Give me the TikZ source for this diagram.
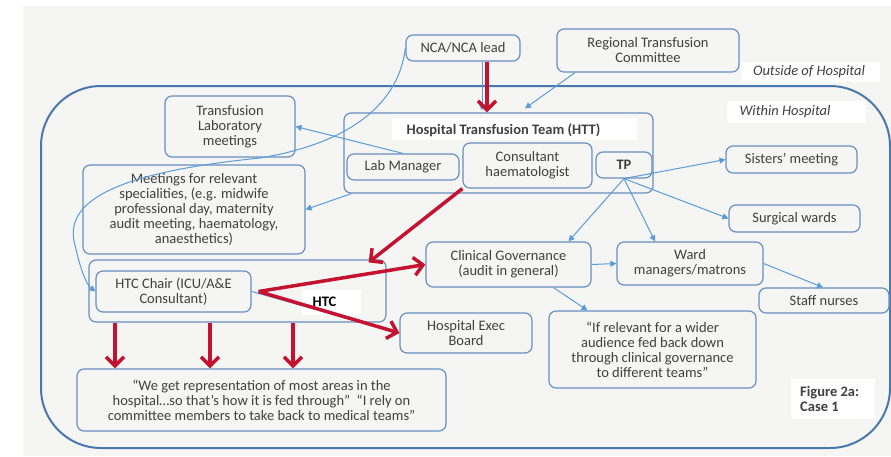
\documentclass[tikz,border=0pt]{standalone}
\usepackage{fontspec}
\setmainfont{Carlito}
\usetikzlibrary{arrows.meta}
\definecolor{bg}{HTML}{F5F5F3}
\definecolor{boxc}{HTML}{6A8FC0}
\definecolor{outerc}{HTML}{4A78AE}
\definecolor{lnc}{HTML}{5A9BD8}
\definecolor{redc}{HTML}{C41230}
\definecolor{txt}{HTML}{404040}
\begin{document}
\begin{tikzpicture}[x=1pt,y=-1pt,
 box/.style={draw=boxc, line width=1.2pt, rounded corners=7pt, fill=bg, align=center, text=txt, inner sep=0pt, font=\fontsize{14.5}{15}\selectfont},
 wbox/.style={fill=white, inner sep=0pt},
 lbl/.style={text=txt, inner sep=0pt, font=\fontsize{14.5}{15}\selectfont},
 bl/.style={draw=lnc, line width=1pt, -{Triangle[length=6pt,width=6pt]}},
 rd/.style={draw=redc, line width=3.5pt, -{Straight Barb[length=9pt,width=18pt]}},
]
\useasboundingbox (0,0) rectangle (891,456);
\fill[white] (0,0) rectangle (891,456);
\fill[bg] (23,6) rectangle (891,456);
\draw[outerc, line width=2pt, rounded corners=60pt] (41,86) rectangle (890,448);

% outside nodes
\node[box, minimum width=114pt, minimum height=26pt] (nca) at (463,48) {NCA/NCA lead};
\node[box, minimum width=182pt, minimum height=43pt] (rtc) at (648,50.5) {Regional Transfusion\\Committee};
\node[wbox, minimum width=139pt, minimum height=20pt] (outbox) at (810.5,72) {};
\node[lbl, font=\fontsize{14.5}{15}\selectfont\itshape] (outside) at (809,72) {Outside of Hospital};
\node[wbox, minimum width=139pt, minimum height=22pt] (withbox) at (796.5,112) {};
\node[lbl, font=\fontsize{14.5}{15}\selectfont\itshape] (within) at (785,112) {Within Hospital};

% HTT
\node[box, minimum width=309pt, minimum height=80pt] (htt) at (498.5,153) {};
\node[wbox, minimum width=245pt, minimum height=22pt] (httbox) at (514.5,129) {};
\node[lbl, font=\fontsize{14.5}{15}\selectfont\bfseries] (htttitle) at (503.5,130) {Hospital Transfusion Team (HTT)};
\node[box, minimum width=112pt, minimum height=26pt] (labmgr) at (403,167) {Lab Manager};
\node[box, minimum width=129pt, minimum height=45pt] (consult) at (527.5,165.5) {Consultant\\haematologist};
\node[box, minimum width=56pt, minimum height=26pt, font=\fontsize{14.5}{15}\selectfont\bfseries] (tp) at (624,165) {TP};

\node[box, minimum width=130pt, minimum height=61pt] (tlm) at (230,126.5) {Transfusion\\Laboratory\\meetings};
\node[box, minimum width=222pt, minimum height=89pt] (meet) at (194,209.5) {Meetings for relevant\\specialities, (e.g. midwife\\professional day, maternity\\audit meeting, haematology,\\anaesthetics)};

\node[box, minimum width=131pt, minimum height=27pt] (sisters) at (791.5,159.5) {Sisters’ meeting};
\node[box, minimum width=131pt, minimum height=27pt] (surgical) at (794.5,218.5) {Surgical wards};
\node[box, minimum width=165pt, minimum height=45pt] (cg) at (508.5,264.5) {Clinical Governance\\(audit in general)};
\node[box, minimum width=146pt, minimum height=43pt] (ward) at (690,263.5) {Ward\\managers/matrons};
\node[box, minimum width=130pt, minimum height=25pt] (staff) at (824,300.5) {Staff nurses};
\node[box, minimum width=207pt, minimum height=77pt] (ifrel) at (652.5,349.5) {“If relevant for a wider\\audience fed back down\\through clinical governance\\to different teams”};
\node[box, minimum width=132pt, minimum height=40pt] (hexec) at (466,333) {Hospital Exec\\Board};

% HTC
\node[box, minimum width=297pt, minimum height=62pt] (htc) at (237.5,291) {};
\node[box, minimum width=155pt, minimum height=41pt] (htcchair) at (173.5,291.5) {HTC Chair (ICU/A\&E\\Consultant)};
\node[wbox, minimum width=59pt, minimum height=25pt] (htcbox) at (331.5,302.5) {};

\node[box, minimum width=369pt, minimum height=62pt] (quote) at (261.5,400) {“We get representation of most areas in the\\hospital…so that’s how it is fed through”~~“I rely on\\committee members to take back to medical teams”};

\node[wbox, minimum width=84pt, minimum height=40pt] (figbox) at (833,399) {};
\node[lbl, anchor=west, align=left, font=\fontsize{14.5}{15}\selectfont\bfseries] (figlbl) at (800,399) {Figure 2a:\\Case 1};

% blue connectors
\draw[bl] ([xshift=19pt]nca.south) -- ([xshift=19pt,yshift=2pt]nca.south |- htt.north);
\draw[bl] ([xshift=-73pt]rtc.south) -- ([xshift=26.5pt,yshift=4pt]htt.north);
\draw[bl] (labmgr.north) -- (tlm.east);
\draw[bl] ([xshift=8pt]htt.south west) -- (meet.east);
\draw[bl] (tp.south) -- (sisters.west);
\draw[bl] (tp.south) -- (surgical.west);
\draw[bl] (tp.south) -- ([xshift=60pt]cg.north);
\draw[bl] (tp.south) -- ([xshift=-35pt]ward.north);
\draw[bl] (cg.east) -- (ward.west);
\draw[bl] (ward.east) -- ([xshift=-1pt]staff.north);
\draw[bl] ([xshift=45pt]cg.south) -- ([xshift=-65pt]ifrel.north);
\draw[bl] (nca.west) .. controls (398,110) and (340,145) .. (260,158)
  .. controls (120,172) and (62,200) .. (75,245)
  .. controls (80,268) and (86,284) .. (htcchair.west);
\draw[bl] (htcchair.east) -- (hexec.west);

% red connectors
\coordinate (hh) at ([xshift=7pt]htcchair.east);
\draw[rd] ([xshift=24pt]nca.south) -- ([xshift=24pt]nca.south |- htt.north);
\draw[rd] (consult.south west) -- ([xshift=-18pt,yshift=-3pt]htc.north east);
\draw[rd] (hh) -- (cg.west);
\draw[rd] (hh) -- (hexec.west);
\draw[rd] ([xshift=-122.5pt]htc.south) -- ([xshift=-122.5pt]htc.south |- quote.north);
\draw[rd] ([xshift=-27.5pt]htc.south) -- ([xshift=-27.5pt]htc.south |- quote.north);
\draw[rd] ([xshift=55.5pt]htc.south) -- ([xshift=55.5pt]htc.south |- quote.north);

\node[lbl, font=\fontsize{14.5}{15}\selectfont\bfseries, text=black] (htclbl) at (324.5,302) {HTC};
\end{tikzpicture}
\end{document}
